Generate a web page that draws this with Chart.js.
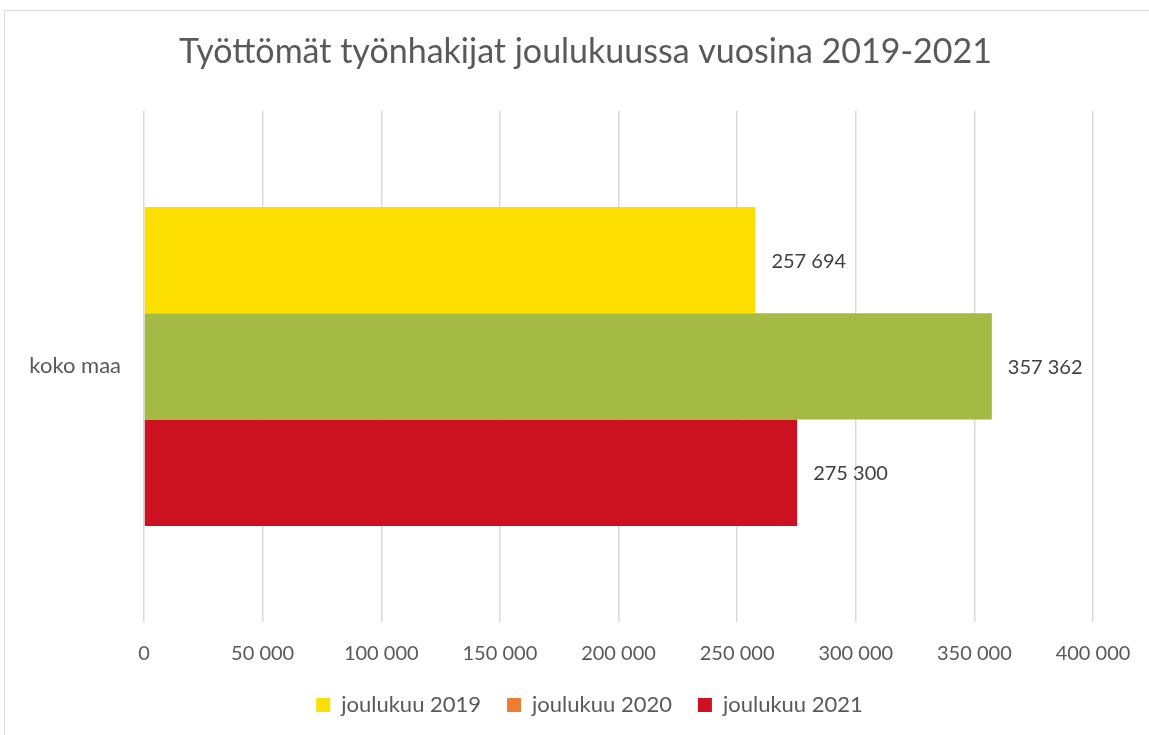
<!DOCTYPE html>
<html>
<head>
<meta charset="utf-8">
<script src="https://cdn.jsdelivr.net/npm/chart.js@4"></script>
<style>
  html, body { margin: 0; padding: 0; background: #fff; overflow: hidden; }
  #wrap { position: relative; width: 1149px; height: 735px; }
  #frame { position: absolute; left: 4px; top: 10px; width: 1200px; height: 800px; border: 1px solid #d9d9d9; }
  canvas { position: absolute; left: 0; top: 0; }
</style>
</head>
<body>
<div id="wrap">
  <div id="frame"></div>
  <canvas id="chart" width="1149" height="735"></canvas>
</div>
<script>
var categories = ['koko maa'];
var seriesNames = ['joulukuu 2019', 'joulukuu 2020', 'joulukuu 2021'];
var values2019 = [257694];
var values2020 = [357362];
var values2021 = [275300];
var barColors = ['#FCDF00', '#A5B945', '#CC1220'];
var legendColors = ['#FCDF00', '#ED7D31', '#CC1220'];
var xMax = 400000;
var xStep = 50000;

function fmt(n) {
    return String(Math.round(n)).replace(/\B(?=(\d{3})+(?!\d))/g, ' ');
}

var valueLabels = {
    id: 'valueLabels',
    afterDatasetsDraw: function (chart) {
        var ctx = chart.ctx;
        ctx.save();
        ctx.font = '20px Lato';
        ctx.fillStyle = '#404040';
        ctx.textAlign = 'left';
        ctx.textBaseline = 'middle';
        chart.data.datasets.forEach(function (ds, i) {
            chart.getDatasetMeta(i).data.forEach(function (bar, j) {
                ctx.fillText(fmt(ds.data[j]), bar.x + 16, bar.y + 1);
            });
        });
        ctx.restore();
    }
};

// excel centres title and legend on the whole frame, not the plot
var recentre = {
    id: 'recentre',
    afterLayout: function (chart) {
        chart.titleBlock.left += 29;
        chart.titleBlock.right += 29;
        chart.legend.left += 33;
        chart.legend.right += 33;
    }
};

var datasets = [values2019, values2020, values2021].map(function (vals, i) {
    return {
        label: seriesNames[i],
        data: vals,
        backgroundColor: barColors[i],
        borderWidth: 0,
        barPercentage: 1.0,
        categoryPercentage: 0.624
    };
});

new Chart(document.getElementById('chart').getContext('2d'), {
    type: 'bar',
    data: { labels: categories, datasets: datasets },
    plugins: [valueLabels, recentre],
    options: {
        responsive: false,
        animation: false,
        indexAxis: 'y',
        layout: { padding: { left: 20, right: 56, top: 24, bottom: 9 } },
        plugins: {
            title: {
                display: true,
                text: 'Työttömät työnhakijat joulukuussa vuosina 2019-2021',
                color: '#595959',
                font: { family: 'Lato', size: 34, weight: 'normal' },
                padding: { top: 8, bottom: 38 }
            },
            legend: {
                position: 'bottom',
                labels: {
                    color: '#595959',
                    font: { family: 'Lato', size: 22 },
                    boxWidth: 14,
                    boxHeight: 14,
                    padding: 26,
                    generateLabels: function (chart) {
                        return chart.data.datasets.map(function (ds, i) {
                            return {
                                text: ds.label,
                                fillStyle: legendColors[i],
                                strokeStyle: legendColors[i],
                                lineWidth: 0,
                                fontColor: '#595959',
                                datasetIndex: i
                            };
                        });
                    }
                }
            },
            tooltip: { enabled: false }
        },
        scales: {
            x: {
                min: 0,
                max: xMax,
                ticks: {
                    stepSize: xStep,
                    color: '#595959',
                    font: { family: 'Lato', size: 20 },
                    padding: 20,
                    callback: function (v) { return fmt(v); }
                },
                grid: { color: '#d9d9d9', lineWidth: 1.5, drawTicks: false },
                border: { display: false },
                afterFit: function (scale) {
                    scale.height = 46;
                    scale.paddingLeft = 0;
                    scale.paddingRight = 0;
                }
            },
            y: {
                ticks: {
                    color: '#595959',
                    font: { family: 'Lato', size: 22 },
                    padding: 23
                },
                grid: { display: false, drawTicks: false },
                border: { display: false },
                afterFit: function (scale) { scale.width = 124; }
            }
        }
    }
});
</script>
</body>
</html>
